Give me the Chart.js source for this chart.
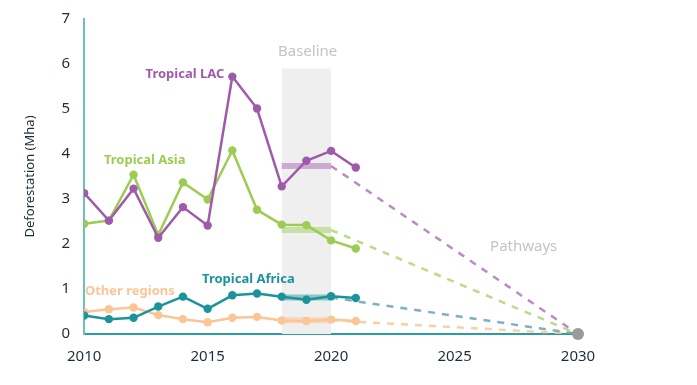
<!DOCTYPE html>
<html>
<head>
<meta charset="utf-8">
<script src="https://cdn.jsdelivr.net/npm/chart.js@4.4.1/dist/chart.umd.min.js"></script>
<style>
  html, body { margin: 0; padding: 0; background: #fff; }
  #wrap { width: 697px; height: 385px; overflow: hidden; }
  #chart { display: block; margin-top: -4px; }
</style>
</head>
<body>
<div id="wrap"><canvas id="chart" width="697" height="389"></canvas></div>
<script>
const years = [2010, 2011, 2012, 2013, 2014, 2015, 2016, 2017, 2018, 2019, 2020, 2021];
const lac    = [3.13, 2.52, 3.23, 2.14, 2.82, 2.41, 5.72, 5.01, 3.28, 3.85, 4.07, 3.70];
const asia   = [2.45, 2.52, 3.54, 2.20, 3.37, 2.99, 4.08, 2.76, 2.43, 2.42, 2.08, 1.90];
const africa = [0.41, 0.33, 0.36, 0.61, 0.83, 0.56, 0.86, 0.90, 0.83, 0.76, 0.84, 0.80];
const other  = [0.49, 0.55, 0.59, 0.42, 0.33, 0.26, 0.36, 0.38, 0.30, 0.29, 0.32, 0.29];
const baselineYears = [2018, 2020];
const baselineTop = 5.9;
const targetYear = 2030;
const targetValue = 0;
const xTicks = [2010, 2015, 2020, 2025, 2030];

const FONT = "'Noto Sans', sans-serif";

function pts(vals) {
  return vals.map((v, i) => ({ x: years[i], y: v }));
}
function mean(vals) {
  const sel = vals.filter((v, i) => years[i] >= baselineYears[0] && years[i] <= baselineYears[1]);
  return sel.reduce((a, b) => a + b, 0) / sel.length;
}

const regions = [
  { name: "Tropical LAC", vals: lac, color: "#a05aab", soft: "rgba(160,90,171,0.45)", dash: "rgba(160,90,171,0.7)", lx: 2016, ly: 5.78, align: "right" },
  { name: "Tropical Asia", vals: asia, color: "#9ccd52", soft: "rgba(156,205,82,0.45)", dash: "rgba(156,205,82,0.7)", lx: 2012.45, ly: 3.86, align: "center" },
  { name: "Tropical Africa", vals: africa, color: "#1b939b", soft: "rgba(27,147,155,0.45)", dash: "rgba(80,150,175,0.75)", lx: 2016.65, ly: 1.22, align: "center" },
  { name: "Other regions", vals: other, color: "#fbc595", soft: "rgba(251,197,149,0.55)", dash: "rgba(251,197,149,0.85)", lx: 2011.85, ly: 0.95, align: "center" }
];

const datasets = [];

// baseline band
datasets.push({
  data: [{ x: baselineYears[0], y: baselineTop }, { x: baselineYears[1], y: baselineTop }],
  borderWidth: 0,
  pointRadius: 0,
  fill: "origin",
  backgroundColor: "#efefef",
  order: 100
});

regions.forEach(r => {
  const m = mean(r.vals);
  datasets.push({
    data: [{ x: baselineYears[0], y: m }, { x: baselineYears[1], y: m }],
    borderColor: r.soft,
    borderWidth: 6,
    pointRadius: 0,
    order: 50
  });
  datasets.push({
    data: [{ x: baselineYears[1], y: m }, { x: targetYear, y: targetValue }],
    borderColor: r.dash,
    borderWidth: 2.5,
    borderDash: [7, 7],
    pointRadius: 0,
    order: 40
  });
});

regions.slice().reverse().forEach((r, i) => {
  datasets.push({
    data: pts(r.vals),
    borderColor: r.color,
    backgroundColor: r.color,
    borderWidth: 2.5,
    pointRadius: 4.2,
    pointBorderWidth: 0,
    pointHoverRadius: 4.2,
    order: 10 - i
  });
});

datasets.push({
  data: [{ x: targetYear, y: targetValue }],
  backgroundColor: "#9a9a9a",
  borderColor: "#9a9a9a",
  pointRadius: 6,
  pointBorderWidth: 0,
  showLine: false,
  clip: false,
  order: 0
});

const labelsPlugin = {
  id: "labels",
  afterDatasetsDraw(chart) {
    const { ctx, scales: { x, y } } = chart;
    ctx.save();
    ctx.textBaseline = "middle";
    ctx.font = "bold 13px " + FONT;
    regions.forEach(r => {
      ctx.fillStyle = r.color;
      ctx.textAlign = r.align;
      let px = x.getPixelForValue(r.lx);
      if (r.align === "right") px -= 8;
      ctx.fillText(r.name, px, y.getPixelForValue(r.ly));
    });
    ctx.font = "15px " + FONT;
    ctx.fillStyle = "#c4c4c4";
    ctx.textAlign = "center";
    ctx.fillText("Baseline", x.getPixelForValue(2019.05), y.getPixelForValue(6.27));
    ctx.fillText("Pathways", x.getPixelForValue(2027.8), y.getPixelForValue(1.93));
    ctx.restore();
  }
};

new Chart(document.getElementById("chart"), {
  type: "line",
  data: { datasets },
  options: {
    responsive: false,
    animation: false,
    layout: { padding: { left: 22, right: 119, top: 0, bottom: 5 } },
    plugins: { legend: { display: false }, tooltip: { enabled: false } },
    scales: {
      x: {
        type: "linear",
        min: 2010,
        max: 2030,
        afterBuildTicks: axis => { axis.ticks = xTicks.map(v => ({ value: v })); },
        grid: { display: false, drawTicks: false },
        border: { display: true, color: "#2a9da3", width: 2 },
        ticks: { color: "#1f2d38", font: { family: FONT, size: 15 }, padding: 14, callback: v => String(v) }
      },
      y: {
        min: 0,
        max: 7,
        ticks: { stepSize: 1, color: "#1f2d38", font: { family: FONT, size: 15 }, padding: 14 },
        grid: { display: false, drawTicks: false },
        border: { display: true, color: "#6cbfc2", width: 2 },
        title: { display: true, text: "Deforestation (Mha)", color: "#1f2d38", font: { family: FONT, size: 13 }, padding: { top: 0, bottom: 10 } }
      }
    }
  },
  plugins: [labelsPlugin]
});
</script>
</body>
</html>
